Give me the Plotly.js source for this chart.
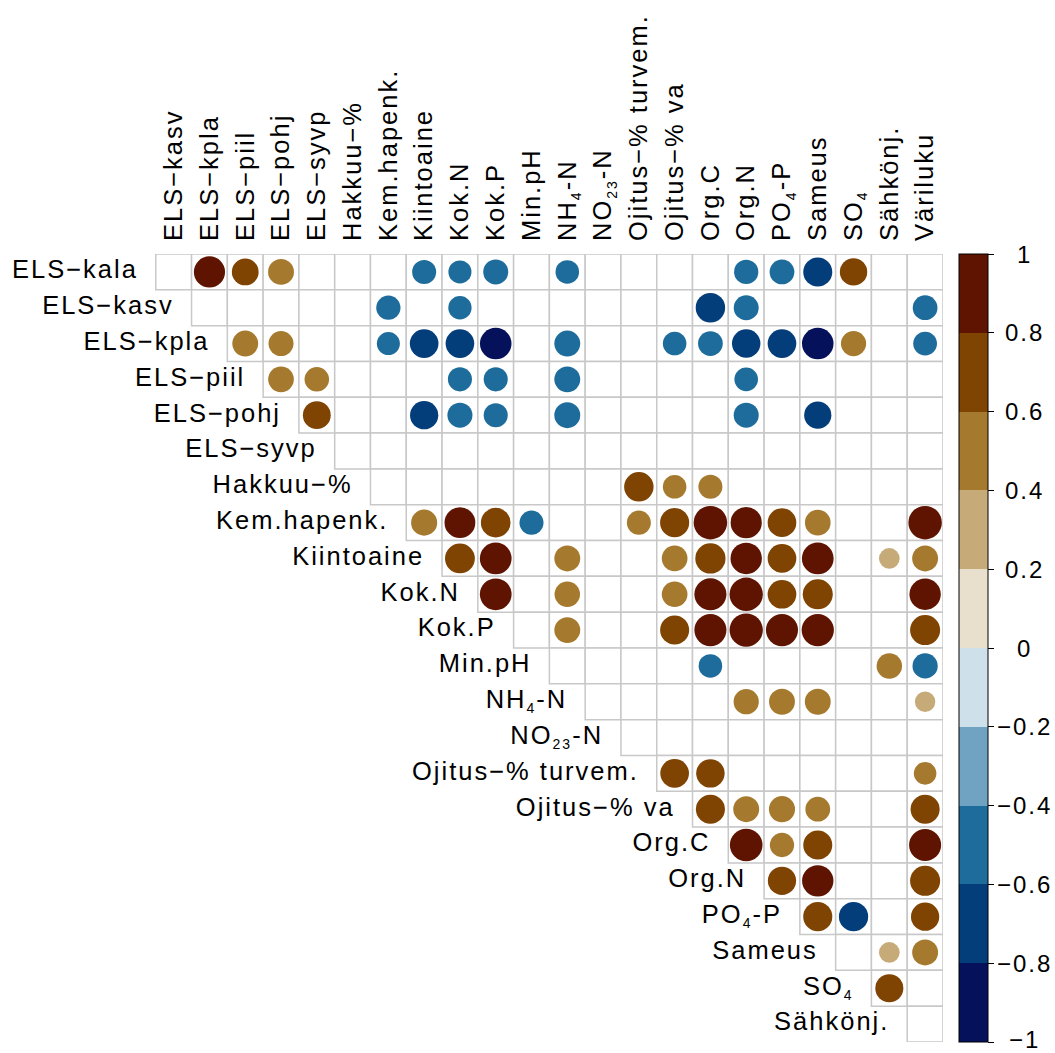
<!DOCTYPE html>
<html>
<head>
<meta charset="utf-8">
<script src="https://cdn.plot.ly/plotly-3.0.1.min.js"></script>
<style>
  html, body { margin: 0; padding: 0; background: #ffffff; }
  #chart { width: 1055px; height: 1053px; }
  /* slightly spaced lettering for all chart text */
  .main-svg text, #js-plotly-tester text { letter-spacing: 2px; }
</style>
</head>
<body>
<div id="chart"></div>
<script>
// Variables of the correlation matrix (upper triangle, diagonal omitted)
const sub = s => "<sub><span style='font-size:14px'>" + s + "</span></sub>";
const variables = [
  "ELS−kala", "ELS−kasv", "ELS−kpla", "ELS−piil", "ELS−pohj", "ELS−syvp",
  "Hakkuu−%", "Kem.hapenk.", "Kiintoaine", "Kok.N", "Kok.P", "Min.pH",
  "NH" + sub("4") + "-N", "NO" + sub("23") + "-N", "Ojitus−% turvem.", "Ojitus−% va",
  "Org.C", "Org.N", "PO" + sub("4") + "-P", "Sameus", "SO" + sub("4"), "Sähkönj.", "Väriluku"
];
const rowLabels = variables.slice(0, 22);   // rows: ELS−kala … Sähkönj.
const colLabels = variables.slice(1);       // columns: ELS−kasv … Väriluku

// Significant correlations; null = not shown. corr[i][j] pairs rowLabels[i] with colLabels[j].
const _ = null;
const corr = [
  [_, .84, .62, .58, _, _, _, -.50, -.46, -.54, _, -.48, _, _, _, _, -.51, -.53, -.73, .65, _, _],
  [_, _, _, _, _, _, -.51, _, -.47, _, _, _, _, _, _, -.75, -.54, _, _, _, _, -.53],
  [_, _, .58, .54, _, _, -.46, -.71, -.71, -.86, _, -.58, _, _, -.48, -.53, -.70, -.71, -.86, .55, _, -.49],
  [_, _, _, .57, .52, _, _, _, -.50, -.50, _, -.58, _, _, _, _, -.48, _, _, _, _, _],
  [_, _, _, _, .67, _, _, -.69, -.54, -.50, _, -.58, _, _, _, _, -.54, _, -.64, _, _, _],
  [_, _, _, _, _, _, _, _, _, _, _, _, _, _, _, _, _, _, _, _, _, _],
  [_, _, _, _, _, _, _, _, _, _, _, _, _, .75, .48, .50, _, _, _, _, _, _],
  [_, _, _, _, _, _, _, .59, .82, .76, -.50, _, _, .50, .73, .97, .84, .71, .57, _, _, .97],
  [_, _, _, _, _, _, _, _, .77, .87, _, .58, _, _, .57, .79, .85, .71, .87, _, .37, .58],
  [_, _, _, _, _, _, _, _, _, .87, _, .56, _, _, .57, .89, .96, .71, .78, _, _, .85],
  [_, _, _, _, _, _, _, _, _, _, _, .58, _, _, .73, .89, .96, .89, .90, _, _, .78],
  [_, _, _, _, _, _, _, _, _, _, _, _, _, _, _, -.48, _, _, _, _, .56, -.55],
  [_, _, _, _, _, _, _, _, _, _, _, _, _, _, _, _, .55, .58, .58, _, _, .36],
  [_, _, _, _, _, _, _, _, _, _, _, _, _, _, _, _, _, _, _, _, _, _],
  [_, _, _, _, _, _, _, _, _, _, _, _, _, _, .71, .70, _, _, _, _, _, .44],
  [_, _, _, _, _, _, _, _, _, _, _, _, _, _, _, .73, .58, .59, .53, _, _, .73],
  [_, _, _, _, _, _, _, _, _, _, _, _, _, _, _, _, .92, .51, .73, _, _, .89],
  [_, _, _, _, _, _, _, _, _, _, _, _, _, _, _, _, _, .69, .85, _, _, .78],
  [_, _, _, _, _, _, _, _, _, _, _, _, _, _, _, _, _, _, .73, -.74, _, .69],
  [_, _, _, _, _, _, _, _, _, _, _, _, _, _, _, _, _, _, _, _, .37, .58],
  [_, _, _, _, _, _, _, _, _, _, _, _, _, _, _, _, _, _, _, _, .68, _],
  [_, _, _, _, _, _, _, _, _, _, _, _, _, _, _, _, _, _, _, _, _, _]
];

// Ten colour classes from −1 to 1
const binColors = [
  "#05115b", "#033d7a", "#1d6c9b", "#6fa3c1", "#cee0ea",
  "#e9dfcd", "#c6ab78", "#a67a2e", "#7f4302", "#5e1400"
];
const colorbarTicks = [-1, -0.8, -0.6, -0.4, -0.2, 0, 0.2, 0.4, 0.6, 0.8, 1];
const colorbarTickText = ["−1", "−0.8", "−0.6", "−0.4", "−0.2", "0", "0.2", "0.4", "0.6", "0.8", "1"];

// ---- layout geometry ----
// one spare column on the left of the x range keeps the first row label inside the axis range
const W = 1055, H = 1053;
const n = colLabels.length;
const xMin = -1.5, xMax = n - 0.5;
const cellPx = 787.6 / n;
const plotW = cellPx * (xMax - xMin);
const margin = { l: Math.round(943 - plotW), r: 112, t: 254, b: 11, pad: 0 };
const FONT = "Liberation Sans, Arial, Helvetica, sans-serif";
const paperX = px => (px - margin.l) / (W - margin.l - margin.r);

// stepped colour scale
const colorscale = [];
binColors.forEach((c, k) => {
  colorscale.push([k / binColors.length, c]);
  colorscale.push([(k + 1) / binColors.length, c]);
});

// grid cells of the upper triangle
const shapes = [];
for (let i = 0; i < rowLabels.length; i++) {
  for (let j = i; j < n; j++) {
    shapes.push({
      type: "rect", xref: "x", yref: "y", layer: "below",
      x0: j - 0.5, x1: j + 0.5, y0: i - 0.5, y1: i + 0.5,
      fillcolor: "#ffffff", line: { color: "#c8c8c8", width: 1.5 }
    });
  }
}

// circles: area proportional to |r|
const cx = [], cy = [], cval = [], csize = [];
corr.forEach((row, i) => {
  row.forEach((v, j) => {
    if (v === null || j < i) return;
    cx.push(j); cy.push(i); cval.push(v);
    csize.push(0.95 * cellPx * Math.sqrt(Math.abs(v)));
  });
});

const circles = {
  type: "scatter", mode: "markers",
  x: cx, y: cy,
  hovertemplate: "%{marker.color:.2f}<extra></extra>",
  marker: {
    symbol: "circle", size: csize, sizemode: "diameter", opacity: 1,
    color: cval, colorscale: colorscale, cmin: -1, cmax: 1,
    line: { width: 0 },
    showscale: true,
    colorbar: {
      xref: "paper", x: paperX(959), xanchor: "left",
      yref: "paper", y: 0.5, yanchor: "middle",
      len: 1, lenmode: "fraction",
      thickness: 29, thicknessmode: "pixels",
      xpad: 0, ypad: 0,
      outlinewidth: 1, outlinecolor: "#000000",
      tickmode: "array", tickvals: colorbarTicks,
      ticks: "outside", ticklen: 6, tickwidth: 1, tickcolor: "#000000",
      showticklabels: false
    }
  },
  cliponaxis: false
};

// row labels sit just left of each row's first cell
const rowText = {
  type: "scatter", mode: "text",
  x: rowLabels.map((_, i) => i - 0.5 - 0.5),
  y: rowLabels.map((_, i) => i),
  text: rowLabels,
  textposition: "middle left",
  textfont: { family: FONT, size: 25.5, color: "#000000" },
  hoverinfo: "skip",
  cliponaxis: false,
  showlegend: false
};

// colour bar value labels, centred to the right of the bar
const cbAnnotations = colorbarTicks.map((v, k) => ({
  xref: "paper", yref: "paper",
  x: paperX(1024), y: (v + 1) / 2,
  xanchor: "center", yanchor: "middle",
  yshift: v === -1 ? 3 : 0,
  text: colorbarTickText[k], showarrow: false,
  font: { family: FONT, size: 24, color: "#000000" }
}));

const layout = {
  width: W, height: H,
  margin: margin,
  paper_bgcolor: "#ffffff",
  plot_bgcolor: "#ffffff",
  showlegend: false,
  xaxis: {
    range: [xMin, xMax],
    side: "top",
    tickmode: "array",
    tickvals: colLabels.map((_, j) => j),
    ticktext: colLabels,
    tickangle: -90,
    ticks: "",
    ticklabelstandoff: 12,
    tickfont: { family: FONT, size: 25.5, color: "#000000" },
    showgrid: false, zeroline: false, showline: false,
    fixedrange: true
  },
  yaxis: {
    range: [rowLabels.length - 0.5, -0.5],
    visible: false,
    showgrid: false, zeroline: false,
    fixedrange: true
  },
  shapes: shapes,
  annotations: cbAnnotations
};

Plotly.newPlot("chart", [rowText, circles], layout, { displayModeBar: false, staticPlot: true });
</script>
</body>
</html>
